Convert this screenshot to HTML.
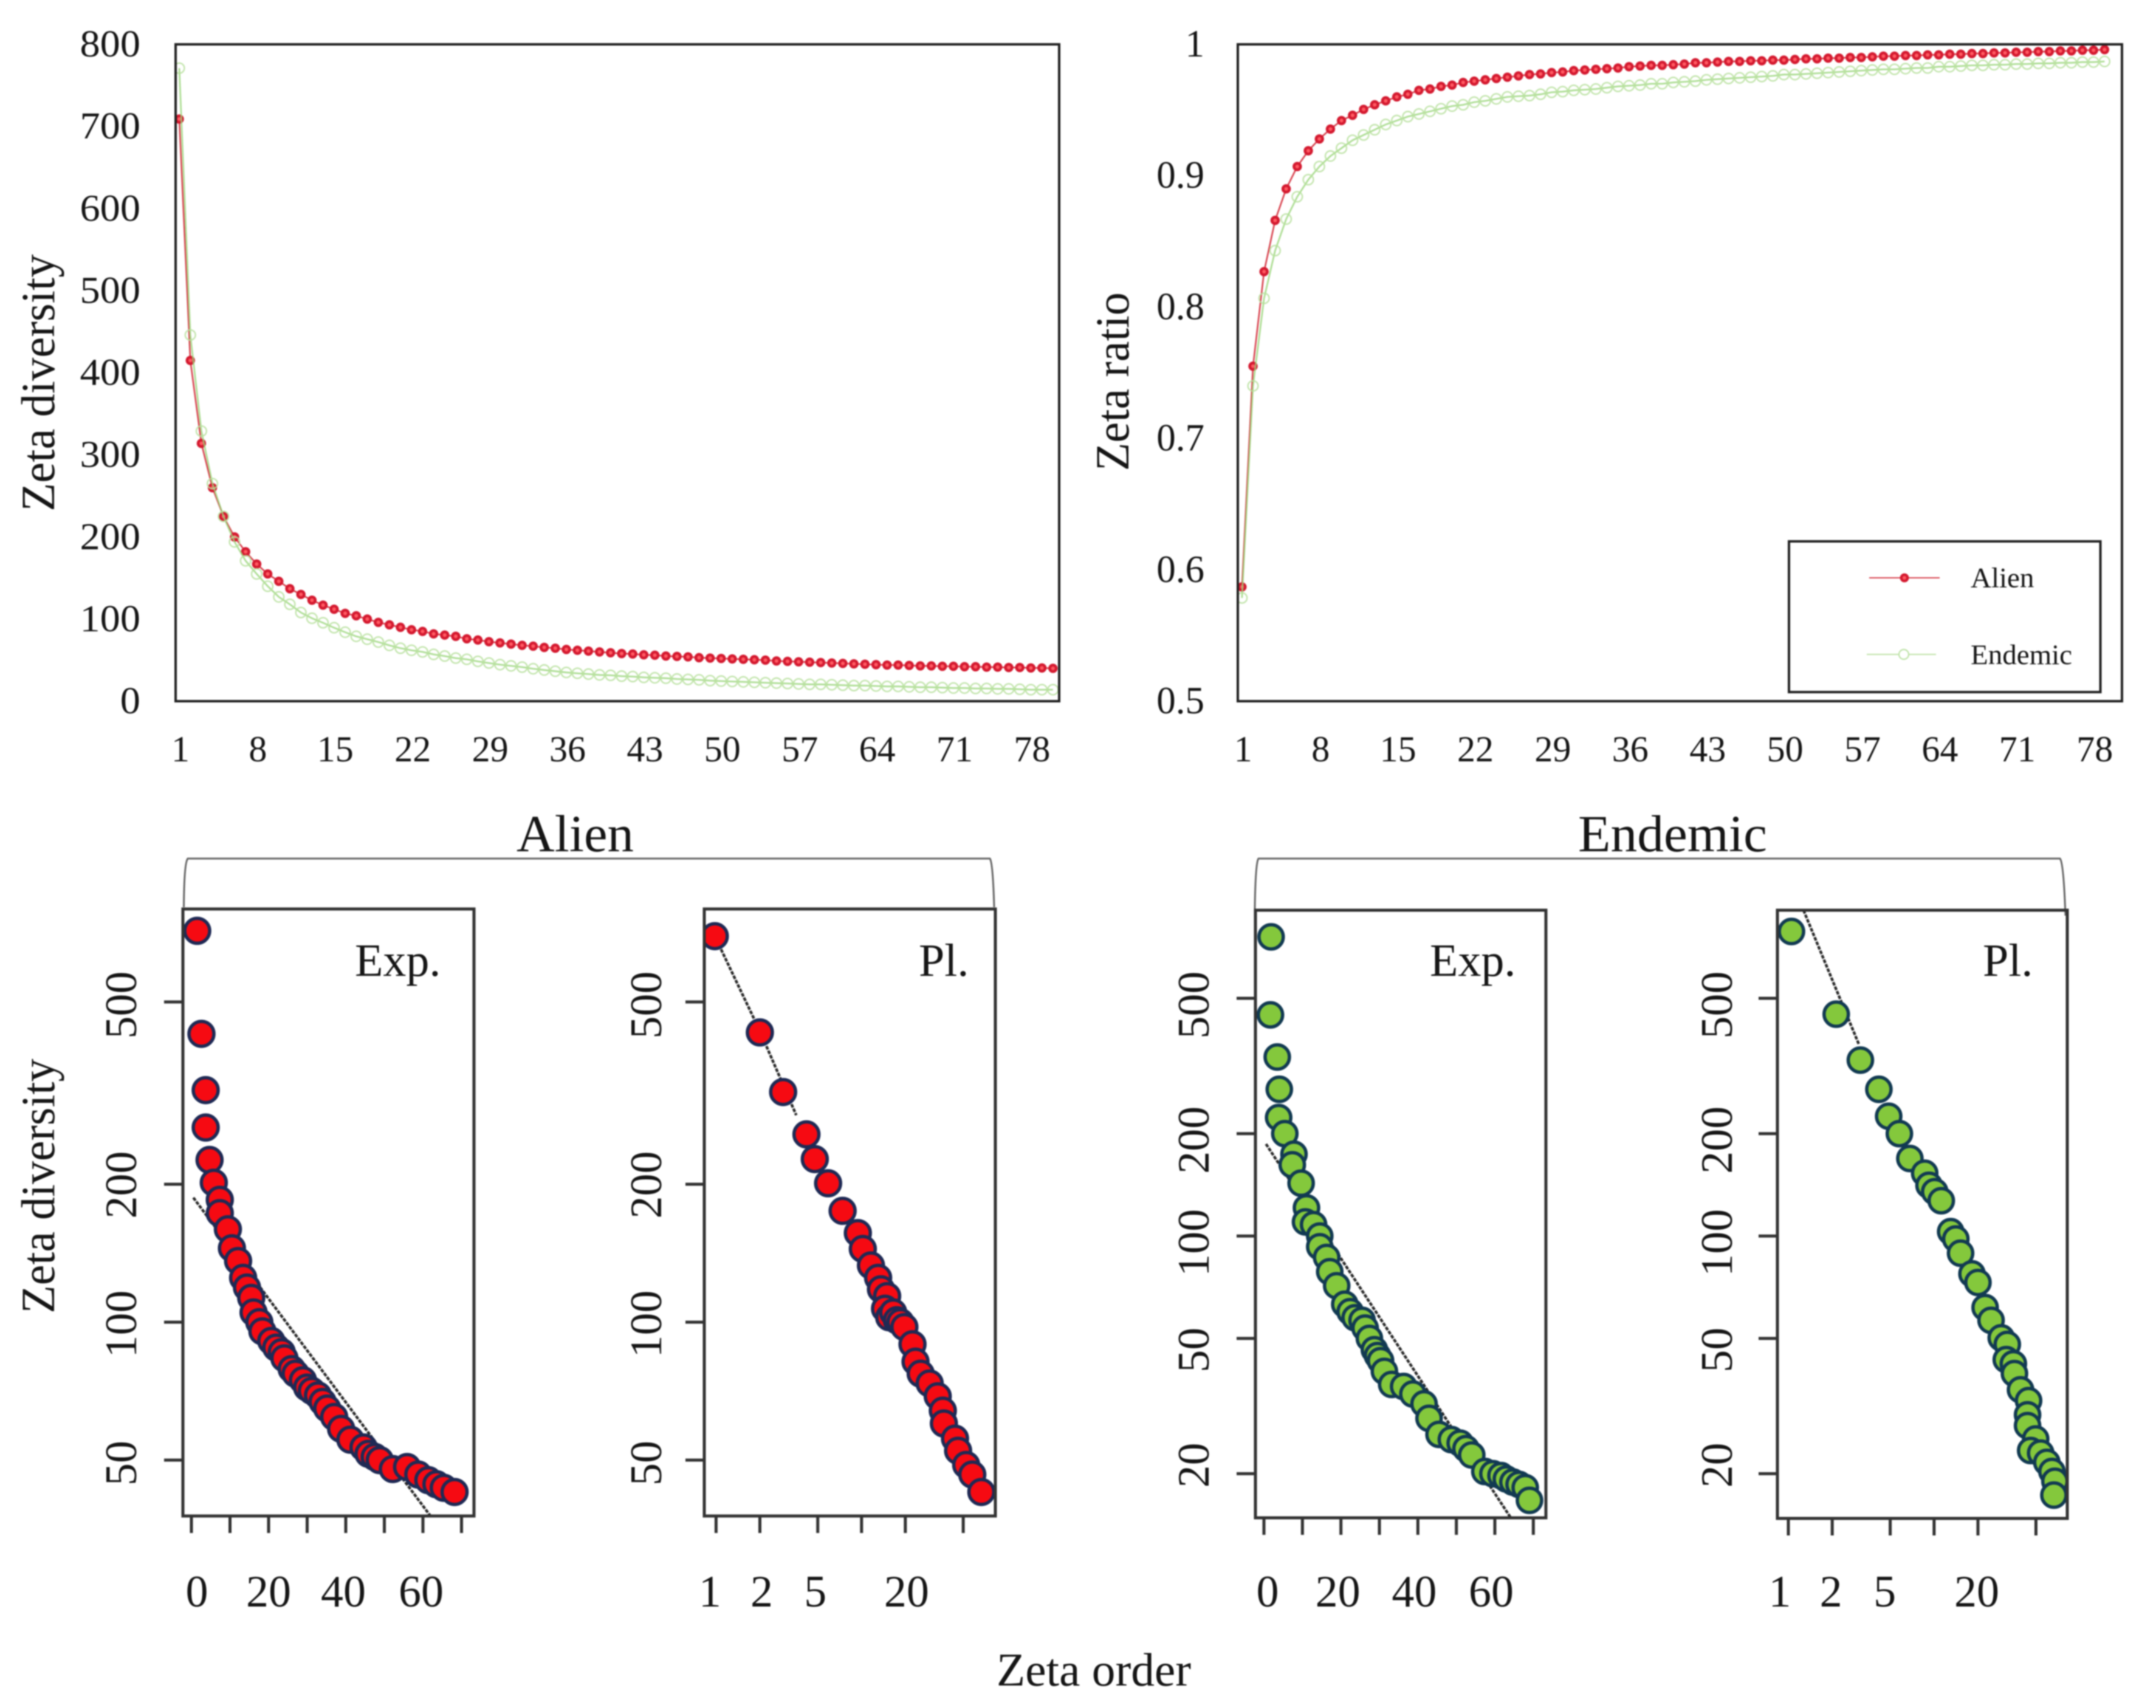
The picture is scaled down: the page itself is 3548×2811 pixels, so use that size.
<!DOCTYPE html>
<html lang="en">
<head>
<meta charset="utf-8">
<title>Zeta diversity charts</title>
<style>
html,body{margin:0;padding:0;background:#fff;width:3548px;height:2811px;overflow:hidden}
svg{display:block;filter:blur(1px)}
text{font-family:"Liberation Serif",serif;fill:#151515}
</style>
</head>
<body>
<svg id="fig" xmlns="http://www.w3.org/2000/svg" width="3548" height="2811" viewBox="0 0 3548 2811">
<rect width="3548" height="2811" fill="#fff"/>
<text transform="rotate(-90 89 630)" x="89" y="630" text-anchor="middle" font-size="78" textLength="423" lengthAdjust="spacingAndGlyphs">Zeta diversity</text>
<text transform="rotate(-90 1857 628)" x="1857" y="628" text-anchor="middle" font-size="78" textLength="294" lengthAdjust="spacingAndGlyphs">Zeta ratio</text>
<text transform="rotate(-90 89 1952)" x="89" y="1952" text-anchor="middle" font-size="78" textLength="419" lengthAdjust="spacingAndGlyphs">Zeta diversity</text>
<text x="1640" y="2774" font-size="77" textLength="320" lengthAdjust="spacingAndGlyphs">Zeta order</text>
<text x="850" y="1401" font-size="86" textLength="193" lengthAdjust="spacingAndGlyphs">Alien</text>
<text x="2597" y="1401" font-size="86" textLength="311" lengthAdjust="spacingAndGlyphs">Endemic</text>
<path d="M302.5 1493 Q303 1420 309 1413 L1629 1413 Q1634 1420 1636 1493" fill="none" stroke="#666" stroke-width="3"/>
<path d="M2065 1496 Q2066 1420 2071 1413 L3390 1413 Q3396 1420 3399 1507" fill="none" stroke="#666" stroke-width="3"/>
</svg>
<script>
// ---- top panels ----
const zetaOrderTicks = [1, 8, 15, 22, 29, 36, 43, 50, 57, 64, 71, 78];
const diversityTicks = [0, 100, 200, 300, 400, 500, 600, 700, 800];
const ratioTicks = [0.5, 0.6, 0.7, 0.8, 0.9, 1];
const ratioTickLabels = ["0.5", "0.6", "0.7", "0.8", "0.9", "1"];
const alienDiversity = [709,415,314,260,225,200,182,167,155,146,137,130,123,117,112,107,104,100,96,93,90,87,85,82,80.5,79,76,74.5,72.5,71,69.5,68,67,65.5,64.5,63,62,61,60,59,58,57.5,56.5,56,55,54.5,54,53,52.5,52,51.5,51,50.5,50,49,48.5,48,47.5,47,46.5,46,45.5,45,44.5,44,44,43.5,43,43,42.5,42.5,42,42,41.5,41.5,41,41,40.5,40.5,40];
const endemicDiversity = [771,446,329,265,225,194,171,155,140,127,118,108,101,95.5,89.5,84,79,75.5,72,68,64.5,62,60,57,55,52.5,51,48.5,46.5,44.5,43,41.5,39.5,38,36.5,35,34,33,32,31.5,30.5,30,29,28.5,28,27,26.5,26,25,24.5,24,23.5,23,22.5,22,21.5,21,20.5,20.5,20,19.5,19,19,18.5,18,18,17.5,17,17,16.5,16,16,15.5,15.5,15,15,14.5,14,14,14];
const alienRatio = [.587,.755,.827,.866,.890,.907,.919,.928,.9355,.942,.946,.9505,.954,.957,.96,.962,.965,.966,.968,.969,.971,.972,.973,.974,.975,.976,.977,.9775,.9785,.979,.98,.9805,.981,.9815,.982,.983,.9835,.984,.984,.9845,.985,.986,.986,.9865,.987,.987,.9875,.9875,.988,.988,.9885,.989,.989,.9895,.9895,.99,.99,.9905,.991,.991,.9915,.9915,.992,.992,.9925,.9925,.993,.993,.9935,.9935,.994,.994,.9945,.9945,.995,.995,.9955,.9955,.996];
const endemicRatio = [.5786,.74,.8067,.843,.867,.884,.897,.907,.915,.921,.927,.931,.935,.939,.942,.945,.947,.949,.951,.953,.954,.956,.957,.9585,.96,.9605,.961,.962,.9635,.964,.965,.9655,.966,.967,.968,.9685,.969,.97,.97,.971,.9715,.972,.973,.9735,.974,.9745,.975,.9755,.976,.977,.977,.9775,.978,.9785,.979,.9795,.98,.9805,.981,.981,.9815,.982,.982,.983,.983,.9835,.984,.984,.9845,.9845,.985,.985,.9855,.9855,.986,.986,.9865,.9865,.987];

// ---- lower panels: order / zeta pairs ----
const alienExpOrder = [1.5,2.6,3.7,3.7,4.7,5.8,7.35,7.35,9.45,10.5,12.1,13.4,14.4,15.5,16.1,17.6,18.4,20.7,22,23.4,24.1,26,27,28.9,30,31.2,32.8,34,35.2,37,38.8,41.2,44.6,45.9,47.5,48.8,52.2,55.9,58.8,61.4,63.5,65.4,68.2];
const alienExpZeta = [715,426,321,266,226,201.6,185,173,159.5,145,136,125,119,113,105,100,95.5,91,88,86,83.4,79,77.2,74.7,72,70.8,69.2,67,64.8,62.1,58.5,55.4,53.3,51.6,50.8,50,47.8,48.3,46.5,45.2,44.3,43.5,42.6];
const alienExpFitOrder = [0.5, 61.9];
const alienExpFitZeta = [187, 37.8];
const alienPlOrder = [0.98,2,2.89,4.18,4.77,5.89,7.41,9.43,10.2,11.6,13,13.6,15,14.5,15.5,16.5,17.5,18.5,19.7,22.4,23.5,25.5,29.4,33.4,36.2,36.8,43.9,46.1,52.4,57.7,66.6];
const alienPlZeta = [696,429,318,257,227,201,175,156.5,144.5,133,125,118,114,107,102.5,105,101,100,97.6,89.5,82,77.2,73.5,68.9,64.1,60.1,55.7,52.4,48.8,46.5,42.6];
const alienPlFitOrder = [0.98, 2, 3.56];
const alienPlFitZeta = [696, 432, 283];
const endemicExpOrder = [1.86,1.69,3.46,3.99,3.82,5.42,7.8,7.36,9.66,11.05,10.8,12.9,14.5,14.5,16.3,17.1,18.9,21,22.4,23.7,25.5,26.3,27.4,28.7,29.5,30.3,31.3,33.2,36.3,38.7,41.6,42.9,45.5,48.7,51,52.5,54,57.4,59.5,61.6,63,64.7,66.3,67.9,69];
const endemicExpZeta = [758,447,336,270,223,200,174,162,143,121,110,108,100,93,86.5,78.5,71.4,63,59.9,57.5,56.5,53.6,50,46.3,44.5,43,40,36.6,36.1,34.3,32.1,29.1,26.1,25.2,24.6,23.7,22.7,20.3,20,19.75,19.3,18.9,18.6,18.2,16.7];
const endemicExpFitOrder = [0.54, 64.2];
const endemicExpFitZeta = [186.4, 14.8];
const endemicPlOrder = [1.05,2.13,3.12,4.18,4.88,5.78,6.82,8.62,9.23,10.1,11.2,13,14.1,15.2,18.2,20,22.4,24.6,28.9,31.8,31.3,35,35.6,39.2,44.5,43.8,43.8,49.8,46,53.9,59.4,64.4,67.5,66.4];
const endemicPlZeta = [786,449,329,270,225,200,169,153,141,135,127,103,98,89,77.4,73,61.6,56.5,50.2,48,43.3,42.1,39.4,35.3,32.8,29.8,27.7,25.3,23.4,23,21.6,20.3,19,17.3];
const endemicPlFitOrder = [1.27, 3.05];
const endemicPlFitZeta = [908, 366];

const expTicks = [0, 10, 20, 30, 40, 50, 60, 70];
const expTickLabels = [0, 20, 40, 60];
const plTicks = [1, 2, 5, 10, 20, 50];
const plTickLabels = [1, 2, 5, 20];
const alienZetaTicks = [50, 100, 200, 500];
const endemicZetaTicks = [20, 50, 100, 200, 500];

const NS = "http://www.w3.org/2000/svg";
const fig = document.getElementById("fig");
function add(parent, tag, attrs, txt) {
  const el = document.createElementNS(NS, tag);
  for (const k in attrs) el.setAttribute(k, attrs[k]);
  if (txt !== undefined) el.textContent = txt;
  parent.appendChild(el);
  return el;
}
const defs = add(fig, "defs", {});
function clip(id, x0, y0, x1, y1) {
  const c = add(defs, "clipPath", { id: id });
  add(c, "rect", { x: x0, y: y0, width: x1 - x0, height: y1 - y0 });
}

// ---------- top panels ----------
function drawTop(name, box, xFn, yFn, seriesA, seriesE, yTicks, yLabels, yLabelRight, yFont, yStretch) {
  const g = add(fig, "g", {});
  
  
  clip(name + "-clip", box[0], box[1], box[2], box[3]);
  const plot = add(g, "g", { "clip-path": "url(#" + name + "-clip)" });

  const pathOf = arr => arr.map((v, i) => (i ? "L" : "M") + xFn(i + 1).toFixed(1) + " " + yFn(v).toFixed(1)).join(" ");

  const lineA = add(plot, "path", { d: pathOf(seriesA), fill: "none", stroke: "#d8434f", "stroke-width": 2.6 });
  
  
  seriesA.forEach((v, i) => {
    const c = add(plot, "circle", { cx: xFn(i + 1), cy: yFn(v), r: 5.4, fill: "#ff5a62", stroke: "#d41a30", "stroke-width": 4.6 });
    
    
  });
  const lineE = add(plot, "path", { d: pathOf(seriesE), fill: "none", stroke: "#9ad67a", "stroke-width": 2.8, "stroke-opacity": 0.8 });
  
  
  seriesE.forEach((v, i) => {
    const c = add(plot, "circle", { cx: xFn(i + 1), cy: yFn(v), r: 8.4, fill: "none", stroke: "#b9e19f", "stroke-width": 2.4, "stroke-opacity": 0.85 });
    
    
  });

  const frame = add(g, "rect", { x: box[0], y: box[1], width: box[2] - box[0], height: box[3] - box[1], fill: "none", stroke: "#222", "stroke-width": 4 });
  
  

  zetaOrderTicks.forEach(t => {
    const lab = add(g, "text", { x: xFn(t) + 2, y: 1253, "text-anchor": "middle", "font-size": 60 }, String(t));
    
    
  });
  yTicks.forEach((t, i) => {
    const s = yLabels[i];
    const lab = add(g, "text", { x: yLabelRight, y: yFn(t) + 20, "text-anchor": "end", "font-size": yFont }, s);
    if (yStretch) {
      lab.setAttribute("textLength", (s.length * 0.5 * yFont * yStretch).toFixed(1));
      lab.setAttribute("lengthAdjust", "spacingAndGlyphs");
    }
    
    
  });
}
const x1Fn = k => 295 + (k - 1) * 18.2;
const y1Fn = v => 1154 - v * (1081 / 800);
const x2Fn = k => 2043.8 + (k - 1) * 18.2;
const y2Fn = v => 1154 - (v - 0.5) * (1081 / 0.5);
drawTop("zeta-diversity", [289, 73, 1743, 1154], x1Fn, y1Fn, alienDiversity, endemicDiversity, diversityTicks, diversityTicks.map(String), 231, 62, 1.07);
drawTop("zeta-ratio", [2037, 73, 3492, 1154], x2Fn, y2Fn, alienRatio, endemicRatio, ratioTicks, ratioTickLabels, 1982, 63, 0);

// ---------- legend ----------
const legend = add(fig, "g", {});


const legendBox = add(legend, "rect", { x: 2944, y: 891, width: 512.5, height: 248, fill: "#fff", stroke: "#222", "stroke-width": 4 });


const legLine1 = add(legend, "line", { x1: 3076, y1: 951, x2: 3192, y2: 951, stroke: "#d8434f", "stroke-width": 2 });


const legDot1 = add(legend, "circle", { cx: 3134, cy: 951, r: 5.2, fill: "#ff5a62", stroke: "#d41a30", "stroke-width": 4.4 });


const legText1 = add(legend, "text", { x: 3243, y: 966.7, "font-size": 47 }, "Alien");


const legLine2 = add(legend, "line", { x1: 3072, y1: 1077, x2: 3186, y2: 1077, stroke: "#bfe3a8", "stroke-width": 2 });


const legDot2 = add(legend, "circle", { cx: 3133, cy: 1077, r: 8, fill: "#fff", stroke: "#bfe3a8", "stroke-width": 2.2 });


const legText2 = add(legend, "text", { x: 3243, y: 1093, "font-size": 47 }, "Endemic");



// ---------- lower panels ----------
function drawLower(c) {
  const g = add(fig, "g", {});
  
  
  const [x0, y0, x1, y1] = c.box;
  clip(c.name + "-clip", x0, y0, x1, y1);
  const plot = add(g, "g", { "clip-path": "url(#" + c.name + "-clip)" });

  const fit = add(plot, "path", {
    d: c.fitOrder.map((o, i) => (i ? "L" : "M") + c.xFn(o).toFixed(1) + " " + c.yFn(c.fitZeta[i]).toFixed(1)).join(" "),
    fill: "none", stroke: "#2a2a2a", "stroke-width": 4.4, "stroke-dasharray": "6 2"
  });
  
  

  c.order.forEach((o, i) => {
    const dot = add(plot, "circle", { cx: c.xFn(o), cy: c.yFn(c.zeta[i]), r: c.r, fill: c.fill, stroke: c.stroke, "stroke-width": 5.5 });
    
    
  });

  const frame = add(g, "rect", { x: x0, y: y0, width: x1 - x0, height: y1 - y0, fill: "none", stroke: "#333", "stroke-width": 5 });
  
  

  c.xTicks.forEach(t => {
    const tick = add(g, "line", { x1: c.xFn(t), x2: c.xFn(t), y1: y1, y2: y1 + 28, stroke: "#333", "stroke-width": 5 });
    
    
  });
  c.xLabels.forEach((t, i) => {
    const lab = add(g, "text", { x: c.xFn(t) + c.xLabelShift[i], y: 2644, "text-anchor": "middle", "font-size": 74 }, String(t));
    
    
  });
  c.yTicks.forEach((t, i) => {
    const tick = add(g, "line", { x1: x0 - 31, x2: x0, y1: c.yFn(t), y2: c.yFn(t), stroke: "#333", "stroke-width": 5 });
    
    
    const yy = c.yFn(t) + c.yLabelShift[i];
    const lab = add(g, "text", { x: c.yLabelX, y: yy, transform: "rotate(-90 " + c.yLabelX + " " + yy + ")", "text-anchor": "middle", "font-size": 74 }, String(t));
    
    
  });
  const tag = add(g, "text", { x: c.tagX, y: 1606, "font-size": 76 }, c.tag);
  
  
}
const alienY = v => 2403 - Math.log10(v / 50) * 754;
const endemicY = v => 2202.7 - Math.log10(v / 50) * 559.7;
const RED = { fill: "#f60a12", stroke: "#1f2a55", r: 20.5 };
const GRN = { fill: "#84c83c", stroke: "#123a52", r: 20 };
drawLower(Object.assign({}, RED, {
  name: "alien-exp", box: [301, 1496, 780, 2495], tag: "Exp.", tagX: 584,
  xFn: v => 315 + v * 6.35, yFn: alienY,
  order: alienExpOrder, zeta: alienExpZeta, fitOrder: alienExpFitOrder, fitZeta: alienExpFitZeta,
  xTicks: expTicks, xLabels: expTickLabels, xLabelShift: [9, 0, -4, -3],
  yTicks: alienZetaTicks, yLabelX: 224, yLabelShift: [5, 3, 1, 5]
}));
drawLower(Object.assign({}, RED, {
  name: "alien-pl", box: [1159, 1496, 1638, 2495], tag: "Pl.", tagX: 1512,
  xFn: v => 1178.4 + Math.log10(v) * 239.4, yFn: alienY,
  order: alienPlOrder, zeta: alienPlZeta, fitOrder: alienPlFitOrder, fitZeta: alienPlFitZeta,
  xTicks: plTicks, xLabels: plTickLabels, xLabelShift: [-10, 3, -4, 2],
  yTicks: alienZetaTicks, yLabelX: 1088, yLabelShift: [5, 3, 1, 5]
}));
drawLower(Object.assign({}, GRN, {
  name: "endemic-exp", box: [2066, 1498, 2544, 2498], tag: "Exp.", tagX: 2353,
  xFn: v => 2080 + v * 6.333, yFn: endemicY,
  order: endemicExpOrder, zeta: endemicExpZeta, fitOrder: endemicExpFitOrder, fitZeta: endemicExpFitZeta,
  xTicks: expTicks, xLabels: expTickLabels, xLabelShift: [6, -5, -6, -6],
  yTicks: endemicZetaTicks, yLabelX: 1989, yLabelShift: [-14, 19, 11, 10.5, 11]
}));
drawLower(Object.assign({}, GRN, {
  name: "endemic-pl", box: [2925, 1498, 3402, 2499], tag: "Pl.", tagX: 3263,
  xFn: v => 2943 + Math.log10(v) * 239.8, yFn: endemicY,
  order: endemicPlOrder, zeta: endemicPlZeta, fitOrder: endemicPlFitOrder, fitZeta: endemicPlFitZeta,
  xTicks: plTicks, xLabels: plTickLabels, xLabelShift: [-14, -2, -9, -2],
  yTicks: endemicZetaTicks, yLabelX: 2850, yLabelShift: [-14, 19, 11, 10.5, 11]
}));
</script>
</body>
</html>
